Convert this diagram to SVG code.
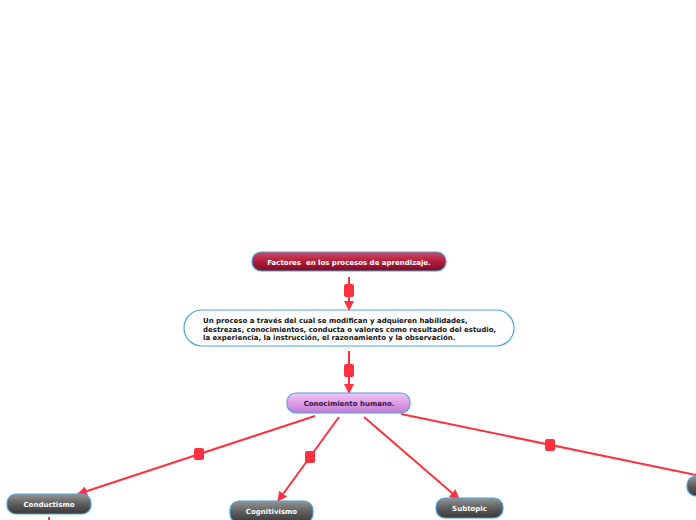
<svg xmlns="http://www.w3.org/2000/svg" width="696" height="520" viewBox="0 0 696 520">
<defs>
<linearGradient id="gRed" x1="0" y1="0" x2="0" y2="1"><stop offset="0" stop-color="#d24a63"/><stop offset="0.5" stop-color="#b01e3c"/><stop offset="1" stop-color="#7f0a1e"/></linearGradient>
<linearGradient id="gPur" x1="0" y1="0" x2="0" y2="1"><stop offset="0" stop-color="#f0c8f5"/><stop offset="0.5" stop-color="#dc9ee6"/><stop offset="1" stop-color="#c27ad0"/></linearGradient>
<linearGradient id="gGry" x1="0" y1="0" x2="0" y2="1"><stop offset="0" stop-color="#959595"/><stop offset="0.5" stop-color="#5e5e5e"/><stop offset="1" stop-color="#373737"/></linearGradient>
<marker id="arr" viewBox="0 0 10 10" refX="9" refY="5" markerWidth="10" markerHeight="10" markerUnits="userSpaceOnUse" orient="auto"><path d="M0,0 L10,5 L0,10 z" fill="#ff3040"/></marker>
</defs>
<style>
.box{stroke:#48a6e0;stroke-width:1.2}
.t{font-family:"DejaVu Sans",Verdana,sans-serif;font-weight:bold;font-size:7px}
.tw{fill:#ffffff}
.tb{fill:#111111}
.c{stroke:#ff3040;stroke-width:2;fill:none;marker-end:url(#arr)}
.sq{fill:#ff3040}
</style>
<rect width="696" height="520" fill="#ffffff"/>
<g id="connectors">
<line class="c" x1="349" y1="277" x2="349" y2="310"/>
<rect class="sq" x="344" y="284" width="10" height="13" rx="2"/>
<line class="c" x1="349" y1="351" x2="349" y2="393"/>
<rect class="sq" x="344" y="364" width="10" height="13" rx="2"/>
<line class="c" x1="315" y1="416" x2="78" y2="494"/>
<rect class="sq" x="194" y="448" width="10" height="12" rx="2"/>
<line class="c" x1="339" y1="417" x2="278" y2="501"/>
<rect class="sq" x="305" y="451" width="10" height="12" rx="2"/>
<line class="c" x1="364" y1="417" x2="459" y2="499"/>
<line x1="401" y1="414" x2="696" y2="475" stroke="#ff3040" stroke-width="2"/>
<rect class="sq" x="545" y="439" width="10" height="12" rx="2"/>
<line x1="49" y1="517" x2="49" y2="520" stroke="#ff3040" stroke-width="2"/>
</g>
<g id="n1">
<rect class="box" x="252" y="252" width="194" height="19" rx="9" fill="url(#gRed)"/>
<text class="t tw" x="349" y="264.5" text-anchor="middle" xml:space="preserve">Factores  en los procesos de aprendizaje.</text>
</g>
<g id="n2">
<rect class="box" x="184" y="310" width="330" height="36" rx="18" fill="#ffffff"/>
<text class="t tb" x="203" y="323">Un proceso a través del cual se modifican y adquieren habilidades,</text>
<text class="t tb" x="203" y="331.5">destrezas, conocimientos, conducta o valores como resultado del estudio,</text>
<text class="t tb" x="203" y="340">la experiencia, la instrucción, el razonamiento y la observación.</text>
</g>
<g id="n3">
<rect class="box" x="287" y="393" width="123" height="20" rx="9" fill="url(#gPur)"/>
<text class="t" x="349" y="405.5" text-anchor="middle" fill="#3a1040">Conocimiento humano.</text>
</g>
<g id="n4">
<rect class="box" x="7" y="494" width="84" height="20" rx="9" fill="url(#gGry)"/>
<text class="t tw" x="49" y="506.5" text-anchor="middle">Conductismo</text>
</g>
<g id="n5">
<rect class="box" x="230" y="501" width="83" height="22" rx="9" fill="url(#gGry)"/>
<text class="t tw" x="271.5" y="514" text-anchor="middle">Cognitivismo</text>
</g>
<g id="n6">
<rect class="box" x="436" y="498" width="67" height="20" rx="9" fill="url(#gGry)"/>
<text class="t tw" x="469.5" y="510.5" text-anchor="middle">Subtopic</text>
</g>
<g id="n7">
<rect class="box" x="687" y="476" width="40" height="20" rx="9" fill="url(#gGry)"/>
</g>
</svg>
